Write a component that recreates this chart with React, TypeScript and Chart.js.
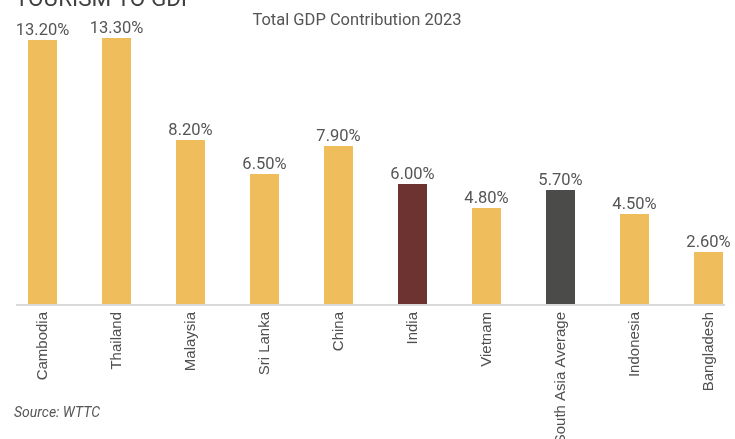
import React, { useEffect, useRef } from "react";
import { Chart, registerables } from "chart.js";

Chart.register(...registerables);

const categories = [
  "Cambodia",
  "Thailand",
  "Malaysia",
  "Sri Lanka",
  "China",
  "India",
  "Vietnam",
  "South Asia Average",
  "Indonesia",
  "Bangladesh",
];
const gdpShare = [13.2, 13.3, 8.2, 6.5, 7.9, 6.0, 4.8, 5.7, 4.5, 2.6];
const barColors = [
  "#EFBD5C",
  "#EFBD5C",
  "#EFBD5C",
  "#EFBD5C",
  "#EFBD5C",
  "#6D3330",
  "#EFBD5C",
  "#4B4B49",
  "#EFBD5C",
  "#EFBD5C",
];
const titleText = "TOURISM TO GDP";
const subtitleText = "Total GDP Contribution 2023";
const sourceText = "Source: WTTC";

const decorPlugin = {
  id: "decor",
  afterDatasetsDraw(chart: any) {
    const ctx = chart.ctx;
    const meta = chart.getDatasetMeta(0);
    ctx.save();
    // value labels
    ctx.fillStyle = "#555555";
    ctx.font = "16.5px Roboto";
    ctx.textAlign = "center";
    ctx.textBaseline = "alphabetic";
    meta.data.forEach((bar: any, i: number) => {
      ctx.fillText(gdpShare[i].toFixed(2) + "%", bar.x, bar.y - 5);
    });
    // axis line
    const yAxis = chart.scales.y.getPixelForValue(0);
    ctx.strokeStyle = "#D9D9D9";
    ctx.lineWidth = 2;
    ctx.beginPath();
    ctx.moveTo(16, yAxis + 1);
    ctx.lineTo(725, yAxis + 1);
    ctx.stroke();
    // title (cut off at top)
    ctx.textAlign = "left";
    ctx.fillStyle = "#404040";
    ctx.font = "22.5px Roboto";
    ctx.fillText(titleText, 15, 6);
    // subtitle
    ctx.textAlign = "center";
    ctx.fillStyle = "#555555";
    ctx.font = "16.5px Roboto";
    ctx.fillText(subtitleText, 357, 25);
    // source
    ctx.textAlign = "left";
    ctx.font = "italic 14px Roboto";
    ctx.fillText(sourceText, 14, 417);
    ctx.restore();
  },
};

export default function App() {
  const canvasRef = useRef<HTMLCanvasElement | null>(null);

  useEffect(() => {
    if (!canvasRef.current) return;
    const chart = new Chart(canvasRef.current, {
      type: "bar",
      data: {
        labels: categories,
        datasets: [
          {
            data: gdpShare,
            backgroundColor: barColors,
            borderWidth: 0,
            barPercentage: 0.8,
            categoryPercentage: 0.49,
          },
        ],
      },
      options: {
        animation: false,
        responsive: true,
        maintainAspectRatio: false,
        layout: { padding: { left: 5.5, right: 4.5, top: 4, bottom: 0 } },
        plugins: {
          legend: { display: false },
          tooltip: { enabled: false },
          title: { display: false },
        },
        scales: {
          x: {
            type: "category",
            offset: true,
            grid: { display: false, drawTicks: false },
            border: { display: false },
            ticks: {
              autoSkip: false,
              maxRotation: 90,
              minRotation: 90,
              padding: 8,
              color: "#505050",
              font: { family: "'Liberation Sans', Arial, sans-serif", size: 15 },
            },
            afterFit(scale: any) {
              scale.height = 135;
              scale.paddingLeft = 0;
              scale.paddingRight = 0;
            },
          },
          y: {
            display: false,
            min: 0,
            max: 15,
          },
        },
      },
      plugins: [decorPlugin],
    });
    return () => chart.destroy();
  }, []);

  return (
    <div
      style={{
        position: "fixed",
        left: 0,
        top: 0,
        width: 735,
        height: 439,
        overflow: "hidden",
        background: "#ffffff",
      }}
    >
      <div style={{ position: "relative", width: 750, height: 439 }}>
        <canvas ref={canvasRef} />
      </div>
    </div>
  );
}
